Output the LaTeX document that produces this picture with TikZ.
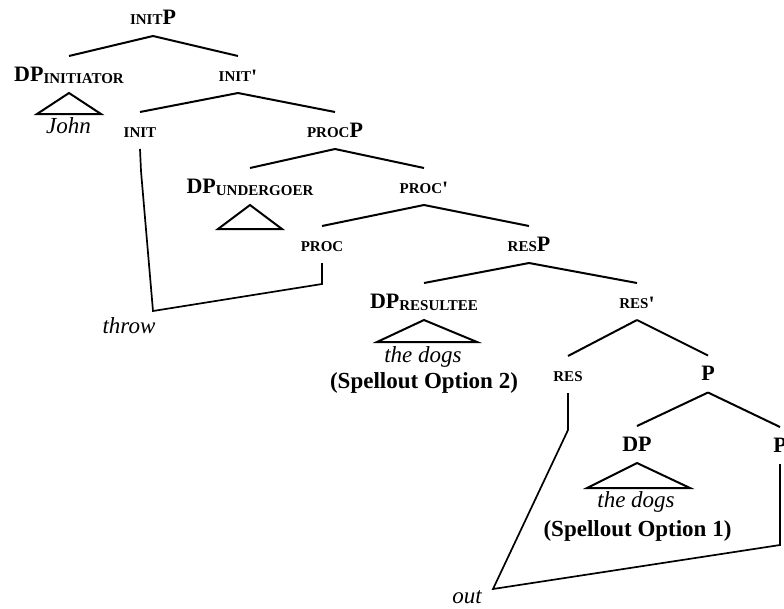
\documentclass[tikz,border=0pt]{standalone}
\usepackage{fontspec}
\setmainfont{Liberation Serif}

\newcommand{\bigf}{\fontsize{22}{22}\selectfont}
\newcommand{\smf}[1]{{\fontsize{15}{15}\selectfont #1}}
\newcommand{\dpsub}[1]{\raisebox{-2.5pt}{\smf{#1}}}
\newcommand{\primemark}{\raisebox{-3pt}{\textquotesingle}}

\tikzset{
  cat/.style={font=\bfseries\bigf, inner sep=0pt, text height=13pt, text depth=0pt, minimum height=35pt},
  word/.style={font=\itshape\fontsize{23}{23}\selectfont, anchor=base, inner sep=0pt},
  note/.style={font=\bfseries\fontsize{23}{23}\selectfont, anchor=base, inner sep=0pt}
}

\begin{document}
\begin{tikzpicture}[x=1pt,y=-1pt,line width=2pt]
  \useasboundingbox (0,0) rectangle (784,608);
  % labels of the tree
  \node[cat] (initP) at (153,17.5) {\smf{INIT}P};
  \node[cat] (dpinit) at (69,74.5) {DP\dpsub{INITIATOR}};
  \node[cat] (initbar) at (238,74.5) {\smf{INIT}\primemark};
  \node[cat] (init) at (140,130.5) {\smf{INIT}};
  \node[cat] (procP) at (335,130.5) {\smf{PROC}P};
  \node[cat] (dpund) at (250,186.5) {DP\dpsub{UNDERGOER}};
  \node[cat] (procbar) at (424,186.5) {\smf{PROC}\primemark};
  \node[cat] (proc) at (322,244.5) {\smf{PROC}};
  \node[cat] (resP) at (529,244.5) {\smf{RES}P};
  \node[cat] (dpres) at (424,301.5) {DP\dpsub{RESULTEE}};
  \node[cat] (resbar) at (637,301.5) {\smf{RES}\primemark};
  \node[cat] (res) at (568,374.5) {\smf{RES}};
  \node[cat] (pP) at (708,374) {P};
  \node[cat] (dp) at (637,444.5) {DP};
  \node[cat] (pR) at (780,445.5) {P};
  % branches
  \draw (initP.south) -- (dpinit.north);
  \draw (initP.south) -- (initbar.north);
  \draw (initbar.south) -- (init.north);
  \draw (initbar.south) -- (procP.north);
  \draw (procP.south) -- (dpund.north);
  \draw (procP.south) -- (procbar.north);
  \draw (procbar.south) -- (proc.north);
  \draw (procbar.south) -- (resP.north);
  \draw (resP.south) -- (dpres.north);
  \draw (resP.south) -- (resbar.north);
  \draw (resbar.south) -- (res.north);
  \draw (resbar.south) -- (pP.north);
  \draw (pP.south) -- (dp.north);
  \draw (pP.south) -- (pR.north);
  % triangles
  \draw (dpinit.south) -- ++(-32,21) -- ++(64,0) -- cycle;
  \draw (dpund.south) -- ++(-32,24) -- ++(64,0) -- cycle;
  \draw (dpres.south) -- ++(-47,22) -- ++(100,0) -- cycle;
  \draw (dp.south) -- ++(-50,25) -- ++(103,0) -- cycle;
  % words
  \node[word] (john) at (68.5,133) {John};
  \node[word] (dogsres) at (423,362) {the dogs};
  \node[note] (opt2) at (424,388) {(Spellout Option 2)};
  \node[word] (dogsp) at (636,507) {the dogs};
  \node[note] (opt1) at (637.5,536) {(Spellout Option 1)};
  \node[word] (throw) at (129,333) {throw};
  \node[word] (out) at (467,603) {out};
  % spellout lines
  \coordinate (throwk) at (153,311);
  \coordinate (prock) at (322,284);
  \coordinate (outk) at (493,589);
  \coordinate (pk) at (780,545);
  \draw[line width=1.7pt] (init.south) -- ++(1,22) -- (throwk) -- (prock) -- (proc.south);
  \draw[line width=1.7pt] (res.south) -- ++(0,37) -- (outk) -- (pk) -- (pR.south);
\end{tikzpicture}
\end{document}
